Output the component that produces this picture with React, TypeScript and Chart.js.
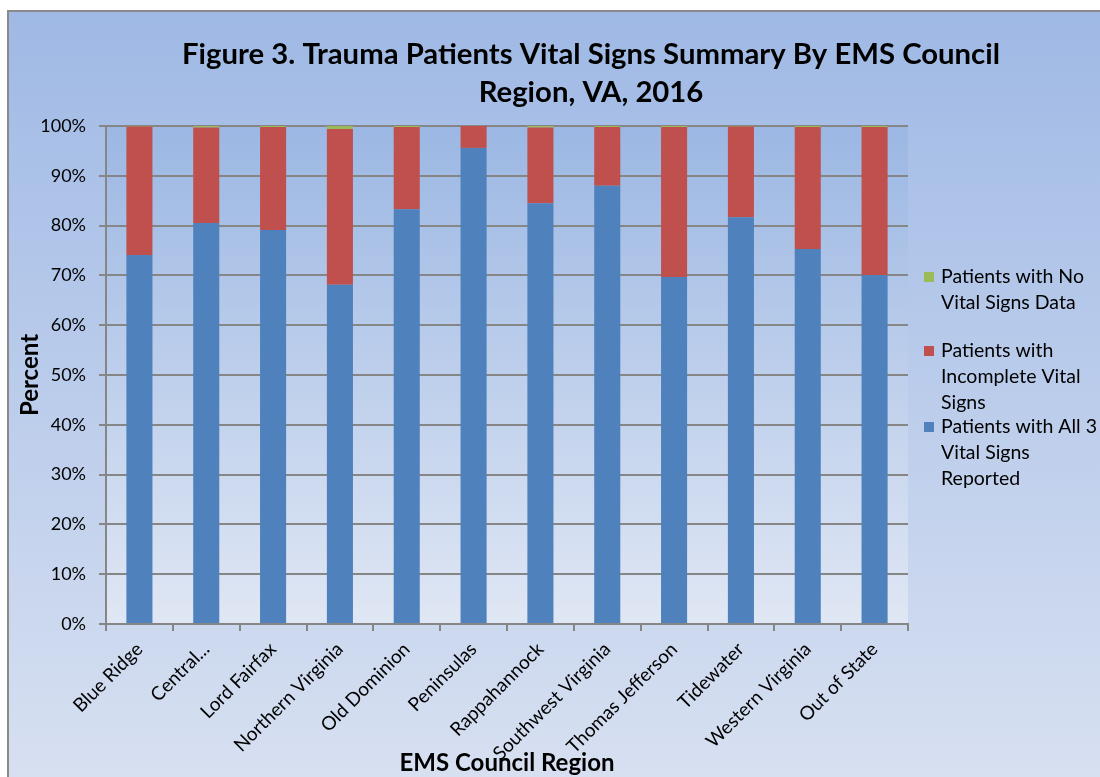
import React, { useEffect, useRef } from "react";
import { Chart, registerables } from "chart.js";

Chart.register(...registerables);

const categories = [
  "Blue Ridge",
  "Central...",
  "Lord Fairfax",
  "Northern Virginia",
  "Old Dominion",
  "Peninsulas",
  "Rappahannock",
  "Southwest Virginia",
  "Thomas Jefferson",
  "Tidewater",
  "Western Virginia",
  "Out of State",
];

const allThreeVitals = [74.1, 80.5, 79.1, 68.1, 83.3, 95.6, 84.5, 88.0, 69.7, 81.7, 75.3, 70.1];
const noVitalsData = [0.1, 0.3, 0.2, 0.6, 0.2, 0.0, 0.3, 0.2, 0.2, 0.1, 0.2, 0.2];
const incompleteVitals = allThreeVitals.map((v, i) => +(100 - v - noVitalsData[i]).toFixed(1));

const titleLines = ["Figure 3. Trauma Patients Vital Signs Summary By EMS Council", "Region, VA, 2016"];
const xTitle = "EMS Council Region";
const yTitle = "Percent";
const legendItems = [
  { lines: ["Patients with No", "Vital Signs Data"], color: "#9bbb59" },
  { lines: ["Patients with", "Incomplete Vital", "Signs"], color: "#c0504d" },
  { lines: ["Patients with All 3", "Vital Signs", "Reported"], color: "#4f81bd" },
];

const FONT = "Lato, 'Open Sans', sans-serif";

const decor = {
  id: "decor",
  beforeDraw(chart: any) {
    const { ctx, width, height, chartArea } = chart;
    ctx.save();
    ctx.fillStyle = "#ffffff";
    ctx.fillRect(0, 0, width, height);
    const g = ctx.createLinearGradient(0, 10, 0, height);
    g.addColorStop(0, "#9fb9e5");
    g.addColorStop(1, "#d7e0f1");
    ctx.fillStyle = g;
    ctx.fillRect(7, 10, width - 7, height - 10);
    const g2 = ctx.createLinearGradient(0, chartArea.top, 0, chartArea.bottom);
    g2.addColorStop(0, "#9bb7e3");
    g2.addColorStop(1, "#e0e7f4");
    ctx.fillStyle = g2;
    ctx.fillRect(chartArea.left, chartArea.top, chartArea.right - chartArea.left, chartArea.bottom - chartArea.top);
    ctx.strokeStyle = "#8a8a8a";
    ctx.lineWidth = 2;
    ctx.beginPath();
    ctx.moveTo(8, height);
    ctx.lineTo(8, 11);
    ctx.lineTo(width, 11);
    ctx.stroke();
    ctx.restore();
  },
  afterDraw(chart: any) {
    const { ctx, chartArea } = chart;
    ctx.save();
    ctx.fillStyle = "#000000";
    ctx.textAlign = "center";
    ctx.textBaseline = "middle";
    ctx.font = `bold 29.3px ${FONT}`;
    ctx.fillText(titleLines[0], 591, 55);
    ctx.fillText(titleLines[1], 591, 93);

    ctx.font = `bold 24px ${FONT}`;
    ctx.fillText(xTitle, (chartArea.left + chartArea.right) / 2, 763);
    ctx.save();
    ctx.translate(30, 375);
    ctx.rotate(-Math.PI / 2);
    ctx.fillText(yTitle, 0, 0);
    ctx.restore();

    ctx.textAlign = "left";
    ctx.font = `19.5px ${FONT}`;
    const starts = [277, 351, 427];
    legendItems.forEach((it, i) => {
      const y0 = starts[i];
      ctx.fillStyle = it.color;
      ctx.fillRect(924, y0 - 5, 10, 10);
      ctx.fillStyle = "#000000";
      it.lines.forEach((ln, j) => ctx.fillText(ln, 941, y0 + j * 26));
    });
    ctx.restore();
  },
};

export default function App() {
  const ref = useRef<HTMLCanvasElement | null>(null);
  useEffect(() => {
    if (!ref.current) return;
    const chart = new Chart(ref.current, {
      type: "bar",
      data: {
        labels: categories,
        datasets: [
          { label: "Patients with All 3 Vital Signs Reported", data: allThreeVitals, backgroundColor: "#4f81bd", stack: "s" },
          { label: "Patients with Incomplete Vital Signs", data: incompleteVitals, backgroundColor: "#c0504d", stack: "s" },
          { label: "Patients with No Vital Signs Data", data: noVitalsData, backgroundColor: "#9bbb59", stack: "s" },
        ],
      },
      options: {
        responsive: false,
        animation: false,
        layout: { padding: { left: 42, right: 192, top: 126, bottom: 0 } },
        datasets: { bar: { barPercentage: 0.39, categoryPercentage: 1 } },
        plugins: { legend: { display: false }, title: { display: false }, tooltip: { enabled: false } },
        scales: {
          x: {
            stacked: true,
            grid: { display: true, offset: true, drawOnChartArea: false, drawTicks: true, tickLength: 7, color: "#868686", lineWidth: 2 },
            border: { display: true, color: "#868686", width: 2 },
            ticks: { color: "#000000", font: { family: FONT, size: 19 }, minRotation: 45, maxRotation: 45, autoSkip: false, padding: 7 },
            afterFit: (s: any) => { s.height = 153; },
          },
          y: {
            stacked: true,
            min: 0,
            max: 100,
            grid: { color: "#868686", lineWidth: 2, tickLength: 7 },
            border: { display: true, color: "#868686", width: 2 },
            ticks: { stepSize: 10, color: "#000000", font: { family: FONT, size: 18 }, padding: 13, callback: (v: any) => `${v}%` },
            afterFit: (s: any) => { s.width = 64; },
          },
        },
      },
      plugins: [decor],
    });
    return () => chart.destroy();
  }, []);
  return (
    <div style={{ position: "fixed", left: 0, top: 0, width: 1100, height: 777 }}>
      <canvas ref={ref} width={1100} height={777} style={{ display: "block" }} />
    </div>
  );
}
